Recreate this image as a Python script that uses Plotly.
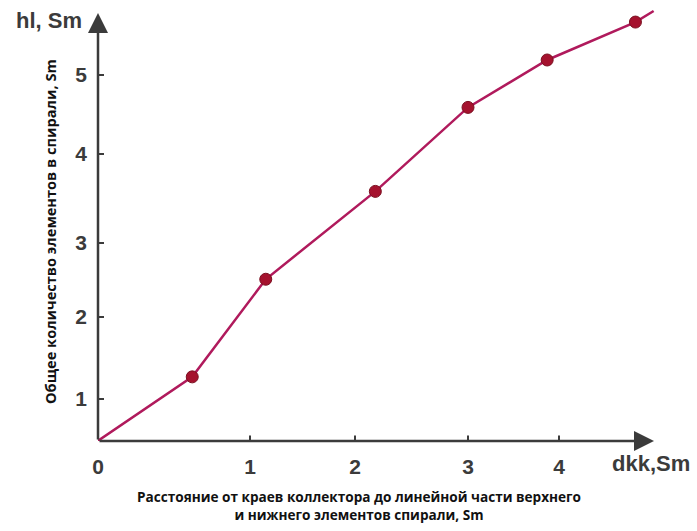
import numpy as np
import plotly.graph_objects as go

# ---- data (in axis label units) ----
X_TICK_LABELS = [0, 1, 2, 3, 4]
Y_TICK_LABELS = [1, 2, 3, 4, 5]
X_VALUES = [0.0, 0.62, 1.15, 2.18, 3.00, 3.87, 4.84, 5.04]
Y_VALUES = [0.49, 1.27, 2.51, 3.58, 4.59, 5.19, 5.67, 5.81]
HAS_MARKER = [False, True, True, True, True, True, True, False]

# ---- drawn axis layout (hand-drawn, uneven tick spacing) ----
X_TICK_POS = [0.0, 1.52, 2.57, 3.70, 4.61]
Y_TICK_POS = [0.42, 1.24, 1.98, 2.87, 3.66]


def to_axis(vals, labels, pos):
    vals = np.asarray(vals, float)
    labels = np.asarray(labels, float)
    pos = np.asarray(pos, float)
    out = np.interp(vals, labels, pos)
    lo_s = (pos[1] - pos[0]) / (labels[1] - labels[0])
    hi_s = (pos[-1] - pos[-2]) / (labels[-1] - labels[-2])
    out = np.where(vals < labels[0], pos[0] + (vals - labels[0]) * lo_s, out)
    out = np.where(vals > labels[-1], pos[-1] + (vals - labels[-1]) * hi_s, out)
    return out


xs = to_axis(X_VALUES, X_TICK_LABELS, X_TICK_POS)
ys = to_axis(Y_VALUES, Y_TICK_LABELS, Y_TICK_POS)

AX = "#3b3b3b"
LINE = "#b01a5c"
MARK = "#a5122e"

fig = go.Figure()
fig.add_trace(go.Scatter(x=xs, y=ys, mode="lines",
                         line=dict(color=LINE, width=2.5),
                         hoverinfo="skip", cliponaxis=False))
mx = [x for x, m in zip(xs, HAS_MARKER) if m]
my = [y for y, m in zip(ys, HAS_MARKER) if m]
fig.add_trace(go.Scatter(x=mx, y=my, mode="markers",
                         marker=dict(color=MARK, size=12,
                                     line=dict(color="#7a1020", width=1)),
                         cliponaxis=False))

X_END = 5.56
Y_END = 4.28

shapes = []
for p in X_TICK_POS[1:]:
    shapes.append(dict(type="line", xref="x", yref="y", x0=p, x1=p,
                       y0=-0.055, y1=0.055, line=dict(color=AX, width=2)))
for p in Y_TICK_POS:
    shapes.append(dict(type="line", xref="x", yref="y", x0=-0.06, x1=0.06,
                       y0=p, y1=p, line=dict(color=AX, width=2)))

PW, PH = 570.0, 435.0


def px(xpix):
    return (xpix - 98) / PW


def py(ypix):
    return (441 - ypix) / PH


annotations = [
    dict(x=X_END, y=0, ax=0, ay=0, xref="x", yref="y", axref="x", ayref="y",
         text="", showarrow=True, arrowhead=2, arrowsize=1.6, arrowwidth=2.5,
         arrowcolor=AX),
    dict(x=0, y=Y_END, ax=0, ay=0, xref="x", yref="y", axref="x", ayref="y",
         text="", showarrow=True, arrowhead=2, arrowsize=1.6, arrowwidth=2.5,
         arrowcolor=AX),
    dict(x=px(49), y=py(20), xref="paper", yref="paper", text="hl, Sm",
         showarrow=False, xanchor="center", yanchor="middle",
         font=dict(family="Liberation Sans", size=22, color=AX, weight="bold")),
    dict(x=px(651), y=py(463), xref="paper", yref="paper", text="dkk,Sm",
         showarrow=False, xanchor="center", yanchor="middle",
         font=dict(family="Liberation Sans", size=22, color=AX, weight="bold")),
    dict(x=px(50), y=py(232), xref="paper", yref="paper",
         text="Общее количество элементов в спирали, Sm",
         textangle=-90, showarrow=False, xanchor="center", yanchor="middle",
         font=dict(family="Open Sans", size=14.6, color="#111", weight="bold")),
    dict(x=px(359), y=py(506), xref="paper", yref="paper",
         text="Расстояние от краев коллектора до линейной части верхнего<br>и нижнего элементов спирали, Sm",
         showarrow=False, xanchor="center", yanchor="middle", align="center",
         font=dict(family="Open Sans", size=13.6, color="#111", weight="bold")),
]

fig.update_layout(
    width=697, height=531,
    margin=dict(l=98, r=29, t=6, b=90, autoexpand=False),
    paper_bgcolor="white", plot_bgcolor="white",
    showlegend=False,
    xaxis=dict(range=[0, 5.7], showgrid=False, zeroline=False, showline=False,
               automargin=False,
               tickvals=X_TICK_POS, ticktext=[str(v) for v in X_TICK_LABELS],
               ticks="", ticklabelstandoff=11,
               tickfont=dict(family="Liberation Sans", size=21, color=AX, weight="bold")),
    yaxis=dict(range=[0, 4.35], showgrid=False, zeroline=False, showline=False,
               automargin=False,
               tickvals=Y_TICK_POS, ticktext=[str(v) for v in Y_TICK_LABELS],
               ticks="", ticklabelstandoff=10,
               tickfont=dict(family="Liberation Sans", size=21, color=AX, weight="bold")),
    shapes=shapes,
    annotations=annotations,
)

fig.write_html("out.html", config={"displayModeBar": False},
               post_script="document.body.style.margin='0';")
